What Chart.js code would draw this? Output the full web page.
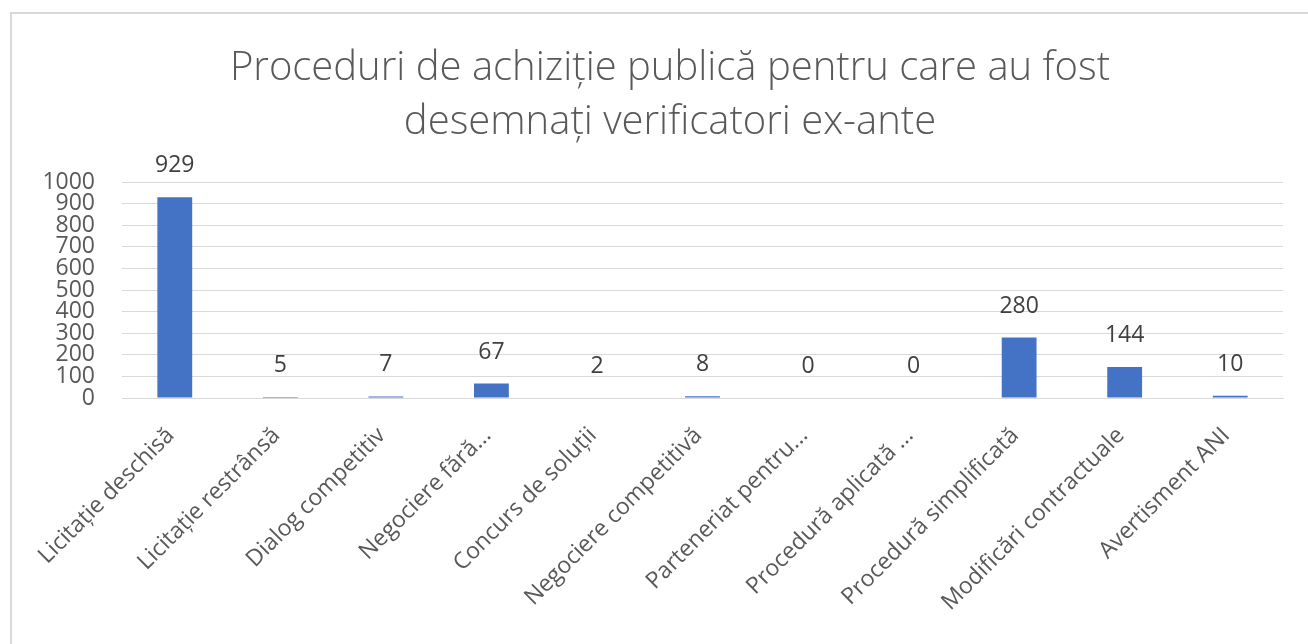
<!DOCTYPE html>
<html>
<head>
<meta charset="utf-8">
<script src="https://cdn.jsdelivr.net/npm/chart.js@4"></script>
<style>
  html, body { margin: 0; padding: 0; background: #fff; }
  #wrap { width: 1308px; height: 644px; position: relative; }
</style>
</head>
<body>
<div id="wrap"><canvas id="barChart"></canvas></div>
<script>
const titleLines = [
  "Proceduri de achiziție publică pentru care au fost",
  "desemnați verificatori ex-ante",
];
const categories = [
  "Licitație deschisă",
  "Licitație restrânsă",
  "Dialog competitiv",
  "Negociere fără...",
  "Concurs de soluții",
  "Negociere competitivă",
  "Parteneriat pentru...",
  "Procedură aplicată ...",
  "Procedură simplificată",
  "Modificări contractuale",
  "Avertisment ANI",
];
const procedureCounts = [929, 5, 7, 67, 2, 8, 0, 0, 280, 144, 10];
const yTicks = [0, 100, 200, 300, 400, 500, 600, 700, 800, 900, 1000];

const FONT = "'Open Sans', sans-serif";
const GREY = "#595959";

// light frame around the chart, running off the right and bottom edges
const framePlugin = {
  id: "frame",
  beforeDraw(chart) {
    const { ctx } = chart;
    ctx.save();
    ctx.strokeStyle = "#d9d9d9";
    ctx.lineWidth = 2;
    ctx.strokeRect(11, 13, chart.width + 20, chart.height + 20);
    ctx.restore();
  },
};

// two-line title
const titlePlugin = {
  id: "twoLineTitle",
  afterDraw(chart) {
    const { ctx } = chart;
    ctx.save();
    ctx.fillStyle = GREY;
    ctx.font = "300 40px " + FONT;
    ctx.textAlign = "center";
    ctx.textBaseline = "alphabetic";
    titleLines.forEach((line, i) => {
      ctx.fillText(line, 670, 80 + i * 54);
    });
    ctx.restore();
  },
};

// value printed above each bar
const valueLabels = {
  id: "valueLabels",
  afterDatasetsDraw(chart) {
    const { ctx } = chart;
    const meta = chart.getDatasetMeta(0);
    ctx.save();
    ctx.fillStyle = "#404040";
    ctx.font = "23px " + FONT;
    ctx.textAlign = "center";
    ctx.textBaseline = "alphabetic";
    meta.data.forEach((bar, i) => {
      ctx.fillText(String(procedureCounts[i]), bar.x, bar.y - 25);
    });
    ctx.restore();
  },
};

const container = document.getElementById("barChart");

new Chart(container, {
  type: "bar",
  data: {
    labels: categories,
    datasets: [
      {
        data: procedureCounts,
        backgroundColor: "#4472C4",
        barPercentage: 0.33,
        categoryPercentage: 1,
      },
    ],
  },
  options: {
    responsive: true,
    maintainAspectRatio: false,
    animation: false,
    layout: {
      padding: { top: 182, left: 10, right: 25, bottom: 0 },
    },
    plugins: {
      legend: { display: false },
      title: { display: false },
      tooltip: { enabled: false },
    },
    scales: {
      x: {
        grid: { display: false },
        border: { color: "#d9d9d9", width: 1 },
        ticks: {
          color: GREY,
          font: { family: FONT, size: 23 },
          minRotation: 45,
          maxRotation: 45,
          autoSkip: false,
          padding: 16,
          labelOffset: -4,
        },
        afterFit(scale) {
          scale.height = 246;
        },
      },
      y: {
        min: 0,
        max: 1000,
        border: { display: false },
        grid: { color: "#d9d9d9", lineWidth: 1, drawTicks: false },
        ticks: {
          color: GREY,
          font: { family: FONT, size: 23 },
          autoSkip: false,
          padding: 27,
          callback: (value) => String(value),
        },
        afterBuildTicks(scale) {
          scale.ticks = yTicks.map((v) => ({ value: v }));
        },
        afterFit(scale) {
          scale.width = 112;
        },
      },
    },
  },
  plugins: [framePlugin, titlePlugin, valueLabels],
});
</script>
</body>
</html>
